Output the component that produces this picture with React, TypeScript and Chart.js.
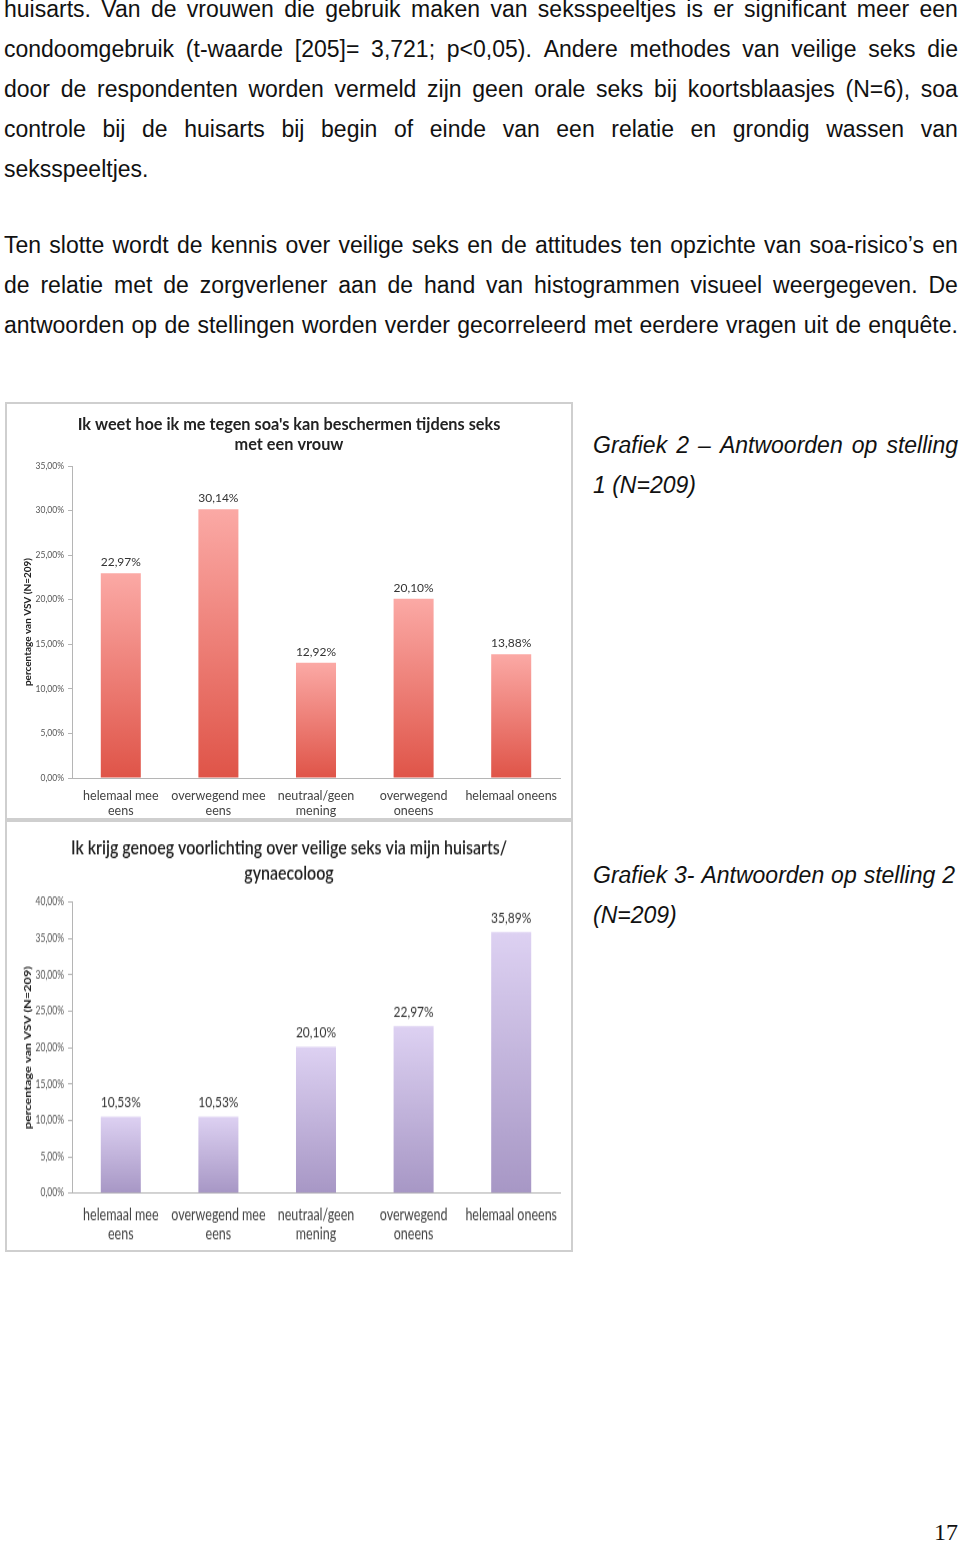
import React, { useEffect, useRef } from "react";
import Chart from "chart.js/auto";

const categories: (string | string[])[] = [
  ["helemaal mee", "eens"],
  ["overwegend mee", "eens"],
  ["neutraal/geen", "mening"],
  ["overwegend", "oneens"],
  "helemaal oneens",
];
const stelling1Values = [22.97, 30.14, 12.92, 20.1, 13.88];
const stelling2Values = [10.53, 10.53, 20.1, 22.97, 35.89];
const stelling1Title = ["Ik weet hoe ik me tegen soa's kan beschermen tijdens seks", "met een vrouw"];
const stelling2Title = ["Ik krijg genoeg voorlichting over veilige seks via mijn huisarts/", "gynaecoloog"];
const yAxisTitle = "percentage van VSV (N=209)";

const para1 = [
  "huisarts. Van de vrouwen die gebruik maken van seksspeeltjes is er significant meer een",
  "condoomgebruik (t-waarde [205]= 3,721; p<0,05). Andere methodes van veilige seks die",
  "door de respondenten worden vermeld zijn geen orale seks bij koortsblaasjes (N=6), soa",
  "controle bij de huisarts bij begin of einde van een relatie en grondig wassen van",
  "seksspeeltjes.",
];
const para2 = [
  "Ten slotte wordt de kennis over veilige seks en de attitudes ten opzichte van soa-risico’s en",
  "de relatie met de zorgverlener aan de hand van histogrammen visueel weergegeven. De",
  "antwoorden op de stellingen worden verder gecorreleerd met eerdere vragen uit de enquête.",
];

const fmt = (v: number) => v.toFixed(2).replace(".", ",") + "%";

type ChartProps = {
  values: number[];
  title: string[];
  titleWeight: string;
  titleSize: number;
  titleY: number;
  max: number;
  top: number;
  height: number;
  stretch: number;
  padTop: number;
  xHeight: number;
  colTop: string;
  colBottom: string;
};

function BarChart(p: ChartProps) {
  const ref = useRef<HTMLCanvasElement | null>(null);
  const logicalH = p.height / p.stretch;
  useEffect(() => {
    if (!ref.current) return;
    const titlePlugin = {
      id: "pageTitle",
      afterDraw(chart: any) {
        const c = chart.ctx;
        c.save();
        c.fillStyle = "#222";
        c.font = `${p.titleWeight} ${p.titleSize}px Lato`;
        c.textAlign = "center";
        c.textBaseline = "middle";
        c.fillText(p.title[0], 284, p.titleY);
        c.fillText(p.title[1], 284, p.titleY + 20);
        c.restore();
      },
    };
    const valuePlugin = {
      id: "valueLabels",
      afterDatasetsDraw(chart: any) {
        const c = chart.ctx;
        const meta = chart.getDatasetMeta(0);
        c.save();
        c.fillStyle = "#333";
        c.font = "12px Lato";
        c.textAlign = "center";
        c.textBaseline = "middle";
        meta.data.forEach((bar: any, i: number) => {
          c.fillText(fmt(p.values[i]), bar.x, bar.y - 11);
        });
        c.restore();
      },
    };
    const chart = new Chart(ref.current, {
      type: "bar",
      data: {
        labels: categories,
        datasets: [
          {
            data: p.values,
            backgroundColor: (ctx: any) => {
              const ch = ctx.chart;
              if (!ch.chartArea || ctx.type !== "data") return p.colTop;
              const ys = ch.scales.y;
              const y0 = ys.getPixelForValue(ctx.parsed.y);
              const y1 = ys.getPixelForValue(0);
              const g = ch.ctx.createLinearGradient(0, y0, 0, y1);
              g.addColorStop(0, p.colTop);
              g.addColorStop(1, p.colBottom);
              return g;
            },
            borderWidth: 0,
            barPercentage: 0.41,
            categoryPercentage: 1,
          },
        ],
      },
      options: {
        responsive: false,
        animation: false,
        devicePixelRatio: 1,
        layout: { padding: { top: p.padTop, right: 13, left: 0, bottom: 0 } },
        plugins: {
          legend: { display: false },
          tooltip: { enabled: false },
          title: { display: false },
        },
        scales: {
          x: {
            grid: { display: false },
            border: { display: true, color: "#b5b5b5", width: 1 },
            ticks: {
              color: "#444",
              font: { family: "Lato", size: 12.5, lineHeight: 1.2 },
              padding: 2,
              maxRotation: 0,
              autoSkip: false,
            },
            afterFit: (s: any) => {
              s.height = p.xHeight;
            },
          },
          y: {
            min: 0,
            max: p.max,
            ticks: {
              stepSize: 5,
              callback: (v: any) => fmt(Number(v)),
              color: "#555",
              font: { family: "Lato", size: 8.5 },
              padding: 4,
            },
            grid: { display: true, drawOnChartArea: false, drawTicks: true, tickLength: 4, color: "#b5b5b5" },
            border: { display: true, color: "#b5b5b5", width: 1 },
            title: {
              display: true,
              text: yAxisTitle,
              color: "#222",
              font: { family: "Lato", size: 10, weight: "bold" },
              padding: { top: 16.5, bottom: 0 },
            },
            afterFit: (s: any) => {
              s.width = 67;
            },
          },
        },
      } as any,
      plugins: [titlePlugin, valuePlugin],
    });
    return () => chart.destroy();
  }, []);
  return (
    <div style={{ position: "absolute", left: 5, top: p.top, width: 568, height: p.height, background: "#fff" }}>
      <canvas
        ref={ref}
        width={568}
        height={Math.round(logicalH * 10) / 10}
        style={{ position: "absolute", left: 0, top: 0, width: "568px", height: `${p.height}px`, display: "block" }}
      />
      <div
        style={{
          position: "absolute",
          inset: 0,
          border: "2px solid #cfcfcf",
          boxSizing: "border-box",
          pointerEvents: "none",
        }}
      />
    </div>
  );
}

function TextLine({ text, top, left, width, justify, italic }: { text: string; top: number; left: number; width: number; justify: boolean; italic?: boolean }) {
  const base: React.CSSProperties = {
    position: "absolute",
    top,
    left,
    width,
    height: 40,
    lineHeight: "40px",
    fontFamily: "'Liberation Sans', Arial, sans-serif",
    fontSize: 23,
    fontStyle: italic ? "italic" : "normal",
    color: "#111",
    whiteSpace: "nowrap",
  };
  if (!justify) return <div style={base}>{text}</div>;
  return (
    <div style={{ ...base, display: "flex", justifyContent: "space-between" }}>
      {text.split(" ").map((w, i) => (
        <span key={i}>{w}</span>
      ))}
    </div>
  );
}

export default function App() {
  const p1Tops = [-11, 29, 69, 109, 149];
  const p2Tops = [225, 265, 305];
  return (
    <div style={{ position: "absolute", left: 0, top: 0, width: 960, height: 1543, background: "#fff", overflow: "hidden" }}>
      {para1.map((t, i) => (
        <TextLine key={"a" + i} text={t} top={p1Tops[i]} left={4} width={954} justify={i < 4} />
      ))}
      {para2.map((t, i) => (
        <TextLine key={"b" + i} text={t} top={p2Tops[i]} left={4} width={954} justify={true} />
      ))}
      <TextLine text="Grafiek 2 – Antwoorden op stelling" top={425} left={593} width={365} justify={true} italic />
      <TextLine text="1 (N=209)" top={465} left={593} width={365} justify={false} italic />
      <TextLine text="Grafiek 3- Antwoorden op stelling 2" top={855} left={593} width={362} justify={true} italic />
      <TextLine text="(N=209)" top={895} left={593} width={365} justify={false} italic />
      <div
        style={{
          position: "absolute",
          top: 1512,
          right: 2,
          height: 40,
          lineHeight: "40px",
          fontFamily: "'Liberation Serif', 'Times New Roman', serif",
          fontSize: 24,
          color: "#111",
        }}
      >
        17
      </div>
      <BarChart
        values={stelling1Values}
        title={stelling1Title}
        titleWeight="bold"
        titleSize={16.3}
        titleY={22.5}
        max={35}
        top={402}
        height={418}
        stretch={1}
        padTop={64}
        xHeight={42}
        colTop="#fba9a5"
        colBottom="#df5448"
      />
      <BarChart
        values={stelling2Values}
        title={stelling2Title}
        titleWeight="600"
        titleSize={16}
        titleY={21.5}
        max={40}
        top={820}
        height={432}
        stretch={1.27}
        padTop={64.6}
        xHeight={46.3}
        colTop="#ddd1f2"
        colBottom="#a797c5"
      />
    </div>
  );
}
